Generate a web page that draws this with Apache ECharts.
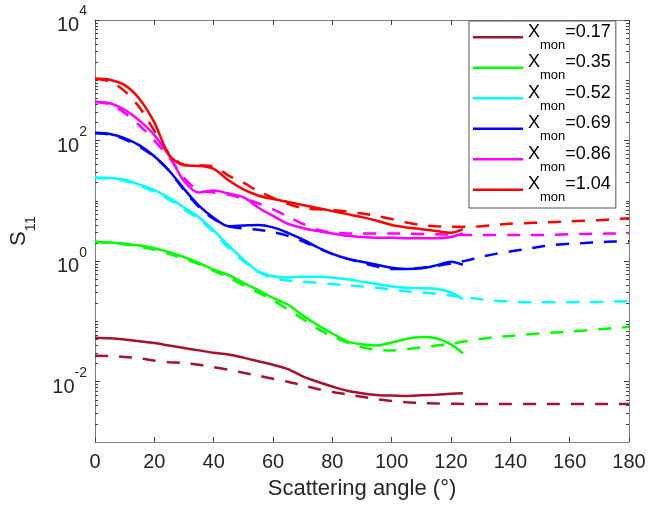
<!DOCTYPE html>
<html><head><meta charset="utf-8">
<script src="https://cdn.jsdelivr.net/npm/echarts@6/dist/echarts.min.js"></script>
<style>html,body{margin:0;padding:0;background:#fff}#c{width:651px;height:512px}</style>
</head><body><div id="c"></div>
<script>
// angles (degrees)
const solidAngles = [0,5,10,15,20,25,30,35,40,45,50,55,60,65,70,75,80,85,90,95,100,105,110,115,120,124];
const dashedAngles = [0,5,10,15,20,25,30,35,40,45,50,55,60,65,70,75,80,85,90,95,100,105,110,115,120,125,130,135,140,145,150,155,160,165,170,175,180];
const xmonLabels = ['0.17','0.35','0.52','0.69','0.86','1.04'];
const xTickValues = [0,20,40,60,80,100,120,140,160,180];
const yMajorTicks = [0.01, 1, 100, 10000];

// S11 values, solid curves
const solid017 = [0.0537,0.0525,0.0501,0.0468,0.0437,0.0398,0.0363,0.0331,0.0302,0.0282,0.0251,0.0219,0.0191,0.0162,0.0123,0.0100,0.00832,0.00708,0.00646,0.00603,0.00589,0.00582,0.00596,0.00610,0.00631,0.00646];
const solid035 = [2.09,2.04,1.95,1.82,1.64,1.41,1.17,0.933,0.724,0.589,0.437,0.331,0.245,0.191,0.126,0.0871,0.0631,0.0468,0.0417,0.0398,0.0447,0.0513,0.0550,0.0525,0.0417,0.0295];
const solid052 = [24.5,24.0,22.4,18.6,15.1,11.2,7.76,5.37,3.24,1.82,1.07,0.676,0.562,0.537,0.550,0.550,0.537,0.501,0.457,0.417,0.380,0.363,0.355,0.347,0.302,0.234];
const solid069 = [135,129,110,83.2,55.0,31.6,15.8,8.32,5.25,3.80,3.89,3.98,3.63,2.95,2.29,1.70,1.32,1.10,0.977,0.871,0.776,0.741,0.759,0.851,0.977,0.871];
const solid086 = [442,417,324,214,123,56.2,21.4,13.8,14.8,13.2,11.5,7.76,5.62,4.17,3.55,3.16,2.88,2.63,2.51,2.45,2.45,2.40,2.40,2.40,2.51,2.88];
const solid104 = [1072,1023,832,490,200,57.5,38.9,38.0,33.9,21.9,15.5,12.3,10.7,9.55,8.51,7.59,6.76,6.03,5.37,4.68,3.98,3.63,3.39,3.16,2.95,3.39];

// S11 values, dashed curves
const dashed017 = [0.0269,0.0266,0.0257,0.0245,0.0224,0.0211,0.0204,0.0191,0.0174,0.0158,0.0141,0.0126,0.0112,0.0100,0.00871,0.00759,0.00676,0.00617,0.00562,0.00513,0.00479,0.00457,0.00442,0.00437,0.00432,0.00427,0.00427,0.00427,0.00427,0.00427,0.00427,0.00427,0.00427,0.00427,0.00427,0.00427,0.00427];
const dashed035 = [2.09,2.00,1.91,1.74,1.55,1.32,1.10,0.891,0.692,0.537,0.398,0.302,0.224,0.158,0.110,0.0759,0.0562,0.0447,0.0372,0.0339,0.0331,0.0347,0.0372,0.0398,0.0427,0.0468,0.0513,0.0550,0.0575,0.0603,0.0631,0.0653,0.0676,0.0708,0.0741,0.0776,0.0813];
const dashed052 = [24.0,23.4,21.4,17.8,14.1,10.5,7.24,5.01,3.02,1.66,1.00,0.660,0.525,0.479,0.457,0.437,0.417,0.398,0.380,0.363,0.339,0.316,0.302,0.288,0.269,0.251,0.234,0.221,0.214,0.209,0.209,0.209,0.209,0.210,0.211,0.214,0.216];
const dashed069 = [132,126,105,79.4,53.7,31.6,15.1,7.94,5.01,3.80,3.47,3.31,3.02,2.63,2.14,1.66,1.32,1.10,0.933,0.813,0.741,0.741,0.776,0.832,0.912,1.02,1.17,1.32,1.45,1.58,1.74,1.86,1.95,2.00,2.07,2.11,2.14];
const dashed086 = [437,398,288,178,100,52.5,24.0,14.8,13.8,12.6,11.0,9.12,7.24,5.50,4.17,3.31,2.99,2.88,2.88,2.88,2.88,2.85,2.82,2.79,2.75,2.72,2.72,2.72,2.72,2.72,2.72,2.75,2.79,2.82,2.85,2.88,2.92];
const dashed104 = [1047,955,661,355,145,60.3,39.8,38.9,37.2,26.3,20.0,14.5,11.2,8.91,7.59,7.24,7.08,6.61,6.17,5.62,5.01,4.37,3.98,3.80,3.72,3.72,3.80,3.98,4.17,4.27,4.37,4.47,4.57,4.68,4.79,4.95,5.13];

const colors = ['#A2142F','#00FF00','#00FFFF','#0000FF','#FF00FF','#FF0000'];
const solidSets = [solid017, solid035, solid052, solid069, solid086, solid104];
const dashedSets = [dashed017, dashed035, dashed052, dashed069, dashed086, dashed104];

const FONT = '"Liberation Sans", Arial, Helvetica, sans-serif';
const AXIS_COLOR = '#808080';
const TICK_COLOR = '#404040';

// minor log ticks (2..9 per decade plus odd decades)
const yMinorTicks = [];
for (let e = -3; e <= 3; e++) {
  for (let k = 1; k <= 9; k++) {
    const v = Number((k * Math.pow(10, e)).toPrecision(6));
    if (k === 1 && (e === -3 || yMajorTicks.indexOf(v) >= 0)) continue;
    yMinorTicks.push(v);
  }
}

const series = [];
for (let i = 0; i < 6; i++) {
  series.push({
    name: xmonLabels[i], type: 'line', xAxisIndex: 0, yAxisIndex: 0,
    symbol: 'none', smooth: 0.3, z: 3,
    lineStyle: { color: colors[i], width: 2.5 },
    itemStyle: { color: colors[i] },
    data: solidAngles.map((a, j) => [a, solidSets[i][j]])
  });
}
for (let i = 0; i < 6; i++) {
  series.push({
    name: 'dashed ' + xmonLabels[i], type: 'line', xAxisIndex: 0, yAxisIndex: 0,
    symbol: 'none', smooth: 0.3, z: 2,
    lineStyle: { color: colors[i], width: 2.5, type: [13, 11] },
    itemStyle: { color: colors[i] },
    data: dashedAngles.map((a, j) => [a, dashedSets[i][j]])
  });
}

const logBase = { type: 'log', logBase: 10, min: 0.001, max: 10000, splitLine: { show: false }, gridIndex: 0 };

const option = {
  animation: false,
  backgroundColor: '#fff',
  textStyle: { fontFamily: FONT },
  grid: { left: 91, top: 20, width: 538, height: 422, containLabel: false },
  legend: {
    orient: 'vertical', left: 469, top: 21,
    icon: 'rect', itemWidth: 50, itemHeight: 2.5, itemGap: 2,
    padding: [2, 5, 4, 4],
    borderColor: '#555', borderWidth: 1, borderRadius: 0, backgroundColor: '#fff',
    data: xmonLabels,
    formatter: n => '{x|X}{s|mon}{v|=' + n + '}',
    textStyle: {
      color: '#000', fontFamily: FONT,
      rich: {
        x: { fontSize: 18, lineHeight: 28.5, verticalAlign: 'top', fontFamily: FONT, color: '#000' },
        s: { fontSize: 13, verticalAlign: 'bottom', fontFamily: FONT, color: '#000' },
        v: { fontSize: 18, verticalAlign: 'top', fontFamily: FONT, color: '#000' }
      }
    }
  },
  xAxis: [
    {
      type: 'value', min: 0, max: 180, interval: 20, position: 'bottom',
      axisLine: { show: true, lineStyle: { color: AXIS_COLOR, width: 1 } },
      axisTick: { show: true, inside: true, length: 5, lineStyle: { color: TICK_COLOR } },
      axisLabel: { fontSize: 20, color: '#262626', margin: 10, fontFamily: FONT,
        customValues: xTickValues },
      splitLine: { show: false },
      name: 'Scattering angle (°)', nameLocation: 'middle', nameGap: 36,
      nameTextStyle: { fontSize: 22, color: '#262626', fontFamily: FONT }
    },
    {
      type: 'value', min: 0, max: 180, interval: 20, position: 'top',
      axisLine: { show: true, lineStyle: { color: AXIS_COLOR, width: 1 } },
      axisTick: { show: true, inside: true, length: 5, lineStyle: { color: TICK_COLOR } },
      axisLabel: { show: false }, splitLine: { show: false }
    }
  ],
  yAxis: [
    Object.assign({}, logBase, {
      position: 'left',
      axisLine: { show: true, lineStyle: { color: AXIS_COLOR, width: 1 } },
      axisTick: { show: true, inside: true, length: 5, lineStyle: { color: TICK_COLOR }, customValues: yMajorTicks },
      axisLabel: {
        show: true, margin: 8, color: '#262626', fontFamily: FONT, customValues: yMajorTicks,
        formatter: v => '{b|10}{s|' + Math.round(Math.log10(v)) + '}',
        rich: {
          b: { fontSize: 20, verticalAlign: 'bottom', color: '#262626', fontFamily: FONT },
          s: { fontSize: 14, lineHeight: 31, verticalAlign: 'top', color: '#262626', fontFamily: FONT }
        }
      },
      name: '{S|S}{n|11}', nameLocation: 'middle', nameGap: 57, nameRotate: 90,
      nameTextStyle: {
        color: '#262626', fontFamily: FONT,
        rich: {
          S: { fontSize: 22, lineHeight: 30, verticalAlign: 'top', color: '#262626', fontFamily: FONT },
          n: { fontSize: 15, verticalAlign: 'bottom', color: '#262626', fontFamily: FONT }
        }
      }
    }),
    Object.assign({}, logBase, {
      position: 'left',
      axisLine: { show: false },
      axisTick: { show: true, inside: true, length: 3, lineStyle: { color: TICK_COLOR }, customValues: yMinorTicks },
      axisLabel: { show: false, customValues: yMinorTicks }
    }),
    Object.assign({}, logBase, {
      position: 'right',
      axisLine: { show: true, lineStyle: { color: AXIS_COLOR, width: 1 } },
      axisTick: { show: true, inside: true, length: 5, lineStyle: { color: TICK_COLOR }, customValues: yMajorTicks },
      axisLabel: { show: false, customValues: yMajorTicks }
    }),
    Object.assign({}, logBase, {
      position: 'right',
      axisLine: { show: false },
      axisTick: { show: true, inside: true, length: 3, lineStyle: { color: TICK_COLOR }, customValues: yMinorTicks },
      axisLabel: { show: false, customValues: yMinorTicks }
    })
  ],
  series: series
};

const chart = echarts.init(document.getElementById('c'), null, { renderer: 'canvas' });
chart.setOption(option);
</script>
</body></html>
